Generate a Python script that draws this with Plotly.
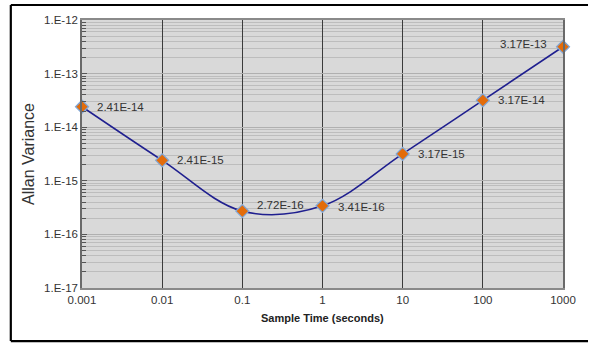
import math
import plotly.graph_objects as go

sample_time = [0.001, 0.01, 0.1, 1, 10, 100, 1000]
allan_variance = [2.41e-14, 2.41e-15, 2.72e-16, 3.41e-16, 3.17e-15, 3.17e-14, 3.17e-13]
point_labels = ["2.41E-14", "2.41E-15", "2.72E-16", "3.41E-16", "3.17E-15", "3.17E-14", "3.17E-13"]
x_tick_vals = [0.001, 0.01, 0.1, 1, 10, 100, 1000]
x_tick_text = ["0.001", "0.01", "0.1", "1", "10", "100", "1000"]
y_tick_vals = [1e-17, 1e-16, 1e-15, 1e-14, 1e-13, 1e-12]
y_tick_text = ["1.E-17", "1.E-16", "1.E-15", "1.E-14", "1.E-13", "1.E-12"]

FONT = "Liberation Sans, Arial, sans-serif"

fig = go.Figure()
fig.add_trace(go.Scatter(
    x=sample_time, y=allan_variance, mode="lines",
    line=dict(color="#1f1f8f", width=1.6, shape="spline", smoothing=1.0),
    hoverinfo="skip", showlegend=False,
))
fig.add_trace(go.Scatter(
    x=sample_time, y=allan_variance, mode="markers",
    marker=dict(symbol="diamond", size=10, color="#e36c0a",
                line=dict(color="#7fa7d9", width=1.2)),
    cliponaxis=False, showlegend=False,
))

# label offsets (style only)
offsets = [(13, 0, "left"), (13, 0, "left"), (13, 6, "left"), (13, -1, "left"),
           (13, 0, "left"), (13, 0, "left"), (-14, 3, "right")]
for xv, yv, txt, (dx, dy, anc) in zip(sample_time, allan_variance, point_labels, offsets):
    fig.add_annotation(x=math.log10(xv), y=math.log10(yv), xref="x", yref="y", text=txt,
                       showarrow=False, xanchor=anc, yanchor="middle", xshift=dx, yshift=dy,
                       font=dict(family=FONT, size=11.5, color="#333333"))

fig.add_annotation(x=0, y=0.5, xref="paper", yref="paper", text="Allan Variance",
                   showarrow=False, textangle=-90, xanchor="center", yanchor="middle",
                   xshift=-54, font=dict(family=FONT, size=16, color="#333333"))
fig.add_annotation(x=0.5, y=0, xref="paper", yref="paper", text="<b>Sample Time (seconds)</b>",
                   showarrow=False, xanchor="center", yanchor="middle",
                   yshift=-30, font=dict(family=FONT, size=11, color="#222222"))

# outer frame: left, top and bottom edges
frame = dict(color="black", width=2.2)
L, R, B, T = -0.148, 1.052, -0.198, 1.056
fig.add_shape(type="line", xref="paper", yref="paper", x0=L, x1=L, y0=B, y1=T, line=frame, layer="above")
fig.add_shape(type="line", xref="paper", yref="paper", x0=L, x1=R, y0=T, y1=T, line=frame, layer="above")
fig.add_shape(type="line", xref="paper", yref="paper", x0=L, x1=R, y0=B, y1=B, line=frame, layer="above")

fig.update_xaxes(
    type="log", range=[-3, 3], tickvals=x_tick_vals, ticktext=x_tick_text,
    showgrid=True, gridcolor="#3c3c3c", gridwidth=1,
    showline=True, linecolor="#8a8a8a", linewidth=1.5, mirror=True,
    ticks="", tickfont=dict(family=FONT, size=11.5, color="#333333"), zeroline=False,
)
fig.update_yaxes(
    type="log", range=[-17, -12], tickvals=y_tick_vals, ticktext=y_tick_text,
    showgrid=True, gridcolor="#b0b0b0", gridwidth=1,
    showline=True, linecolor="#6a6a6a", linewidth=1.5, mirror=True,
    ticks="inside", ticklen=5, tickcolor="#555555",
    minor=dict(dtick="D1", showgrid=True, gridcolor="#bdbdbd", gridwidth=1,
               ticks="inside", ticklen=4, tickcolor="#555555"),
    tickfont=dict(family=FONT, size=11.5, color="#333333"), zeroline=False,
)

fig.update_layout(
    width=592, height=345,
    margin=dict(l=82, r=29, t=20, b=57),
    paper_bgcolor="white", plot_bgcolor="#d9d9d9",
    font=dict(family=FONT),
)

fig.write_html("out.html", config={"displayModeBar": False})

with open("out.html", "r", encoding="utf-8") as f:
    html = f.read()
html = html.replace("<body>", '<body style="margin:0;padding:0;overflow:hidden">', 1)
with open("out.html", "w", encoding="utf-8") as f:
    f.write(html)
